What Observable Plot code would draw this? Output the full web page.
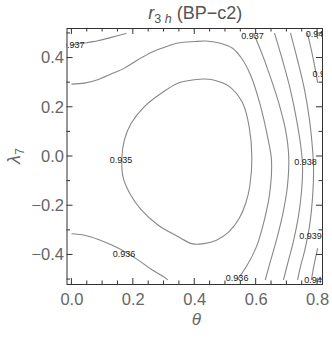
<!DOCTYPE html>
<html><head><meta charset="utf-8">
<script src="https://cdn.jsdelivr.net/npm/d3@7"></script>
<script src="https://cdn.jsdelivr.net/npm/@observablehq/plot@0.6"></script>
<style>html,body{margin:0;padding:0;background:#fff}svg{display:block}</style>
</head><body><div id="chart"></div>
<script>
// ---- data (θ, λ7) ----
const thetaTicks = [0, 0.2, 0.4, 0.6, 0.8];
const lambdaTicks = [-0.4, -0.2, 0, 0.2, 0.4];
const thetaMinor = [0.05, 0.1, 0.15, 0.25, 0.3, 0.35, 0.45, 0.5, 0.55, 0.65, 0.7, 0.75];
const lambdaMinor = [-0.5, -0.3, -0.1, 0.1, 0.3, 0.5];

// contour 0.935 (closed loop)
const c0935 = [[0.429,0.315],[0.458,0.312],[0.512,0.285],[0.556,0.217],[0.577,0.122],[0.586,-0.007],
  [0.579,-0.122],[0.566,-0.190],[0.545,-0.251],[0.512,-0.305],[0.469,-0.341],[0.425,-0.355],[0.393,-0.355],
  [0.345,-0.325],[0.280,-0.278],[0.226,-0.217],[0.188,-0.149],[0.166,-0.081],[0.163,0],[0.171,0.068],
  [0.193,0.135],[0.236,0.203],[0.291,0.257],[0.345,0.298],[0.399,0.312]];
// contour 0.936 (upper-left, over the top, down the right)
const c0936a = [[0,0.294],[0.041,0.298],[0.084,0.312],[0.128,0.335],[0.171,0.359],[0.215,0.393],[0.258,0.423],
  [0.302,0.444],[0.345,0.461],[0.399,0.467],[0.436,0.469],[0.480,0.461],[0.523,0.440],[0.552,0.400],
  [0.582,0.330],[0.612,0.215],[0.637,0.081],[0.650,-0.016],[0.644,-0.150],[0.627,-0.256],[0.601,-0.366],
  [0.568,-0.447],[0.539,-0.5]];
// contour 0.936 (lower-left)
const c0936b = [[0,-0.314],[0.041,-0.320],[0.084,-0.336],[0.128,-0.359],[0.171,-0.386],[0.215,-0.420],
  [0.258,-0.458],[0.302,-0.491],[0.311,-0.5]];
// contour 0.937 (top-left)
const c0937a = [[0,0.454],[0.041,0.461],[0.084,0.470],[0.128,0.484],[0.176,0.5]];
// contour 0.937 (right)
const c0937b = [[0.592,0.5],[0.621,0.411],[0.650,0.309],[0.676,0.207],[0.696,0.106],[0.706,0],
  [0.702,-0.118],[0.689,-0.220],[0.670,-0.321],[0.647,-0.423],[0.630,-0.5]];
const c0938 = [[0.660,0.5],[0.686,0.390],[0.712,0.268],[0.732,0.146],[0.745,0.045],[0.751,-0.037],
  [0.748,-0.138],[0.738,-0.240],[0.722,-0.341],[0.705,-0.423],[0.689,-0.5]];
const c0939 = [[0.712,0.5],[0.735,0.390],[0.758,0.268],[0.774,0.146],[0.784,0.024],[0.787,-0.057],
  [0.784,-0.159],[0.774,-0.280],[0.758,-0.382],[0.745,-0.443],[0.735,-0.5]];
const c0940a = [[0.767,0.5],[0.780,0.431],[0.793,0.350],[0.8,0.301]];
const c0940b = [[0.8,-0.374],[0.790,-0.431],[0.780,-0.5]];
const c0941 = [[0.797,0.5],[0.8,0.48]];

const labelText = ["0.937","0.937","0.941","0.94","0.935","0.938","0.939","0.936","0.936","0.94"];
const labelTheta = [0.004, 0.588, 0.798, 0.812, 0.160, 0.761, 0.777, 0.170, 0.538, 0.785];
const labelLambda = [0.454, 0.488, 0.496, 0.335, -0.016, -0.022, -0.323, -0.397, -0.494, -0.504];

const labels = labelText.map((t, i) => ({t, x: labelTheta[i], y: labelLambda[i]}));
const openSegs = [c0936a, c0936b, c0937a, c0937b, c0938, c0939, c0940a, c0940b, c0941];

const lineStyle = {x: d => d[0], y: d => d[1], stroke: "#878787", strokeWidth: 1.1, clip: true};
const fmt = d3.format(".1f");
const font = "'Liberation Sans', Arial, sans-serif";

const plot = Plot.plot({
  width: 332, height: 337,
  marginLeft: 66.5, marginRight: 10, marginTop: 28, marginBottom: 53,
  style: {fontFamily: font, background: "#fff"},
  x: {domain: [-0.016, 0.816]},
  y: {domain: [-0.52, 0.52]},
  marks: [
    Plot.line(c0935, {...lineStyle, curve: "catmull-rom-closed"}),
    ...openSegs.map(seg => Plot.line(seg, {...lineStyle, curve: "catmull-rom"})),
    Plot.text(labels, {x: "x", y: "y", text: "t", fontSize: 9, fill: "#1a1a1a", clip: true}),
    Plot.frame({stroke: "#333", strokeWidth: 1}),
    Plot.axisX(thetaTicks, {anchor: "bottom", tickSize: 0, tickPadding: 9, fontSize: 16.5, color: "#666", tickFormat: fmt, label: null}),
    Plot.axisY(lambdaTicks, {anchor: "left", tickSize: 0, tickPadding: 3, fontSize: 16.5, color: "#666", tickFormat: fmt, label: null})
  ]
});
document.getElementById("chart").appendChild(plot);

// inward frame ticks on all four sides, placed with the plot's own scales
const sx = plot.scale("x"), sy = plot.scale("y");
const svg = d3.select(plot);
const fL = sx.apply(-0.016), fR = sx.apply(0.816), fT = sy.apply(0.52), fB = sy.apply(-0.52);
const g = svg.append("g").attr("stroke", "#333").attr("stroke-width", 1);
function tx(v, len) {
  const x = sx.apply(v);
  g.append("line").attr("x1", x).attr("x2", x).attr("y1", fB).attr("y2", fB - len);
  g.append("line").attr("x1", x).attr("x2", x).attr("y1", fT).attr("y2", fT + len);
}
function ty(v, len) {
  const y = sy.apply(v);
  g.append("line").attr("y1", y).attr("y2", y).attr("x1", fL).attr("x2", fL + len);
  g.append("line").attr("y1", y).attr("y2", y).attr("x1", fR).attr("x2", fR - len);
}
thetaTicks.forEach(v => tx(v, 6));
thetaMinor.forEach(v => tx(v, 3.5));
lambdaTicks.forEach(v => ty(v, 6));
lambdaMinor.forEach(v => ty(v, 3.5));

// title and axis labels
const cx = (fL + fR) / 2;
const title = svg.append("text").attr("x", cx + 1).attr("y", 18.5).attr("text-anchor", "middle")
  .attr("fill", "#555").attr("font-size", 18).attr("font-family", font);
title.append("tspan").attr("font-style", "italic").text("r");
title.append("tspan").attr("font-size", 12.5).attr("dy", 4).text("3 ");
title.append("tspan").attr("font-size", 12.5).attr("font-style", "italic").text("h");
title.append("tspan").attr("dy", -4).text(" (BP\u2212c2)");

svg.append("text").attr("x", cx + 2).attr("y", 324.5).attr("text-anchor", "middle")
  .attr("fill", "#666").attr("font-size", 17).attr("font-style", "italic").attr("font-family", font).text("θ");

const yl = svg.append("text").attr("transform", `translate(20,${sy.apply(0)}) rotate(-90)`)
  .attr("text-anchor", "middle").attr("fill", "#666").attr("font-size", 18).attr("font-family", font);
yl.append("tspan").attr("font-style", "italic").text("λ");
yl.append("tspan").attr("font-size", 12.5).attr("dy", 4).text("7");
</script>
</body></html>
